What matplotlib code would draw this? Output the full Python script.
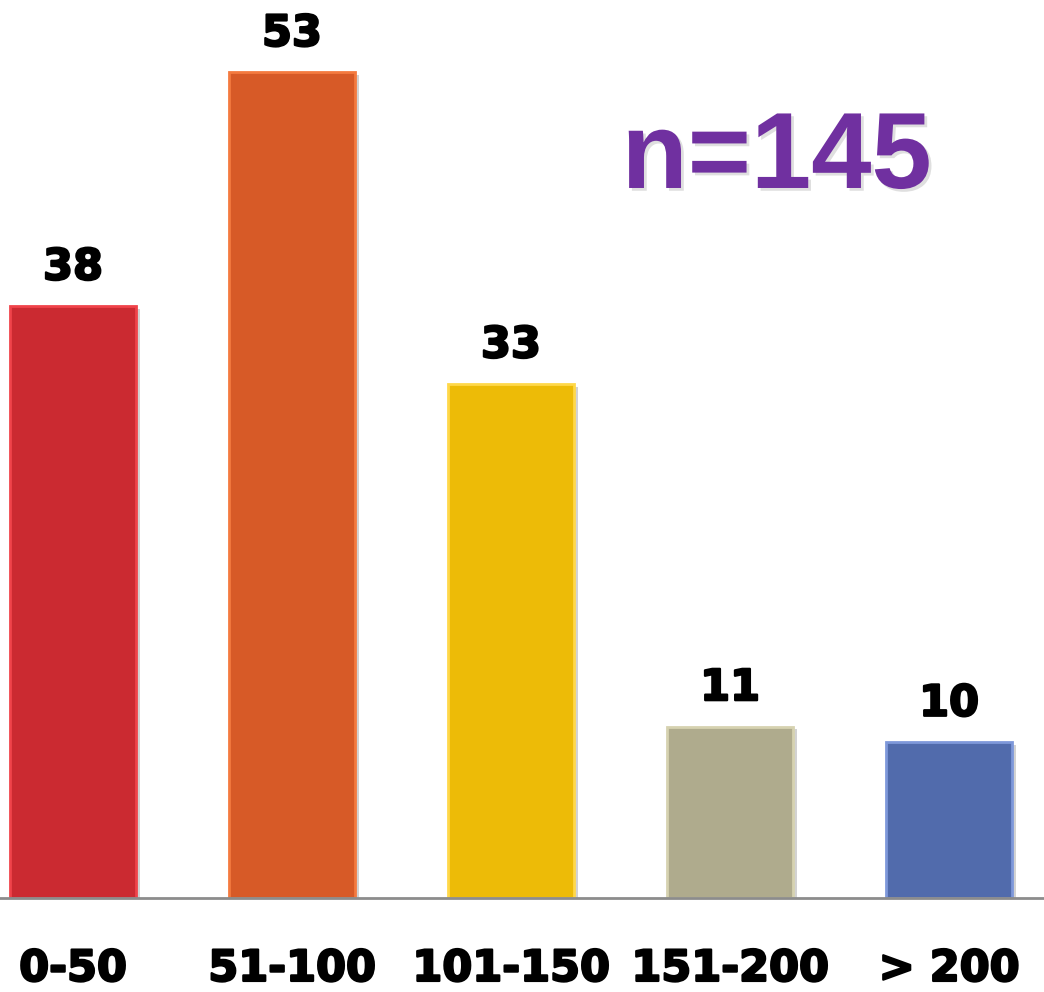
import matplotlib

matplotlib.use("Agg")
import matplotlib.pyplot as plt
from matplotlib import patheffects as pe
import numpy as np

# data
categories = ["0-50", "51-100", "101-150", "151-200", "> 200"]
counts = [38, 53, 33, 11, 10]
bar_colors = ["#CB2A31", "#D75A27", "#EDBB07", "#AFAB8D", "#516BAC"]
edge_colors = ["#F0434A", "#F47A3F", "#FFD84A", "#D6D2B0", "#7E98DA"]
total_label = "n=145"

plt.rcParams["font.family"] = ["DejaVu Sans"]

heavy = [pe.Stroke(linewidth=1.6, foreground="black"), pe.Normal()]

fig = plt.figure(figsize=(10.44, 9.92), dpi=100)
ax = fig.add_axes([0.0, 0.0948, 1.0, 0.9052])

x = np.arange(len(categories))
bars = ax.bar(
    x,
    counts,
    width=0.575,
    color=bar_colors,
    edgecolor=edge_colors,
    linewidth=2.0,
    zorder=2,
)
for b in bars:
    b.set_path_effects(
        [pe.SimplePatchShadow(offset=(3, -2), shadow_rgbFace="#808080", alpha=0.35), pe.Normal()]
    )

for xi, v in zip(x, counts):
    ax.annotate(
        str(v),
        xy=(xi, v),
        xytext=(0, 19),
        textcoords="offset points",
        ha="center",
        va="baseline",
        fontsize=31,
        fontweight="bold",
        color="black",
        path_effects=heavy,
    )

ax.set_xlim(-73 / 219, (1044 - 73) / 219)
ax.set_ylim(0, 57.64)
ax.set_xticks(x)
ax.set_xticklabels(categories, fontsize=31, fontweight="bold")
for lbl in ax.get_xticklabels():
    lbl.set_path_effects(heavy)
ax.tick_params(axis="x", length=0, pad=36)
ax.set_yticks([])
for side in ("top", "left", "right"):
    ax.spines[side].set_visible(False)
ax.spines["bottom"].set_color("#8C8C8C")
ax.spines["bottom"].set_linewidth(2.0)
ax.spines["bottom"].set_zorder(3)

fig.text(
    0.744,
    0.8105,
    total_label,
    ha="center",
    va="baseline",
    fontsize=78,
    fontweight="bold",
    family=["Liberation Sans"],
    color="#7030A0",
    path_effects=[
        pe.withSimplePatchShadow(offset=(2, -2), shadow_rgbFace="#808080", alpha=0.25),
    ],
)

fig.savefig("out.png", dpi=100)
